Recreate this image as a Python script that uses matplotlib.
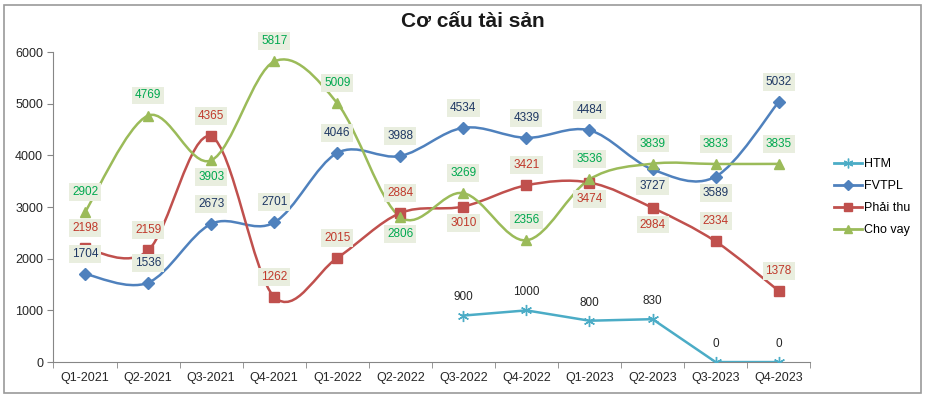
import matplotlib.pyplot as plt
from matplotlib.path import Path
from matplotlib.patches import PathPatch, Rectangle
import numpy as np

quarters = ["Q1-2021", "Q2-2021", "Q3-2021", "Q4-2021", "Q1-2022", "Q2-2022",
            "Q3-2022", "Q4-2022", "Q1-2023", "Q2-2023", "Q3-2023", "Q4-2023"]
fvtpl = [1704, 1536, 2673, 2701, 4046, 3988, 4534, 4339, 4484, 3727, 3589, 5032]
phai_thu = [2198, 2159, 4365, 1262, 2015, 2884, 3010, 3421, 3474, 2984, 2334, 1378]
cho_vay = [2902, 4769, 3903, 5817, 5009, 2806, 3269, 2356, 3536, 3839, 3833, 3835]
htm = [None, None, None, None, None, None, 900, 1000, 800, 830, 0, 0]

# label above (+1) or below (-1) each point
fvtpl_pos = [1, 1, 1, 1, 1, 1, 1, 1, 1, -1, -1, 1]
phai_thu_pos = [1, 1, 1, 1, 1, 1, -1, 1, -1, -1, 1, 1]
cho_vay_pos = [1, 1, -1, 1, 1, -1, 1, 1, 1, 1, 1, 1]

plt.rcParams['font.family'] = ['Liberation Sans', 'DejaVu Sans']

fig = plt.figure(figsize=(9.27, 3.97), dpi=100)
ax = fig.add_axes([0.0577, 0.088, 0.8163, 0.781])
fig.patches.append(Rectangle((0.004, 0.01), 0.989, 0.978, transform=fig.transFigure,
                             fill=False, edgecolor="#9a9a9a", lw=1.2))


def smooth_line(ax, xs, ys, color):
    # Excel-style smoothed line: cubic bezier through the points
    pts = np.column_stack([xs, ys]).astype(float)
    n = len(pts)
    verts = [pts[0]]
    codes = [Path.MOVETO]
    for i in range(n - 1):
        p0 = pts[max(i - 1, 0)]
        p1 = pts[i]
        p2 = pts[i + 1]
        p3 = pts[min(i + 2, n - 1)]
        verts += [p1 + (p2 - p0) / 6, p2 - (p3 - p1) / 6, p2]
        codes += [Path.CURVE4] * 3
    ax.add_patch(PathPatch(Path(verts, codes), fill=False, edgecolor=color, lw=1.8, zorder=2))


x = np.arange(len(quarters))
box = dict(boxstyle="square,pad=0.25", facecolor="#e9eedf", edgecolor="none")

series = [
    ("FVTPL", fvtpl, fvtpl_pos, "#4f81bd", "D", 6, "#1f3864"),
    ("Phải thu", phai_thu, phai_thu_pos, "#c0504d", "s", 6.5, "#c0392b"),
    ("Cho vay", cho_vay, cho_vay_pos, "#9bbb59", "^", 7, "#00a84f"),
]
handles = {}
for name, vals, pos, col, mk, ms, tcol in series:
    smooth_line(ax, x, vals, col)
    ax.plot(x, vals, linestyle="none", marker=mk, color=col, markersize=ms, zorder=3)
    handles[name] = ax.plot([], [], color=col, lw=2, marker=mk, markersize=ms - 1)[0]
    for xi, v, p in zip(x, vals, pos):
        ax.annotate(str(v), (xi, v), xytext=(0, 14.5 if p > 0 else -12), textcoords="offset points",
                    ha="center", va="center", fontsize=8.5, color=tcol, bbox=box, zorder=5,
                    annotation_clip=False)

hx = [xi for xi, v in zip(x, htm) if v is not None]
hv = [v for v in htm if v is not None]
ax.plot(hx, hv, color="#4bacc6", lw=1.8, marker=(6, 2, 0), markersize=8, zorder=3)
handles["HTM"] = ax.plot([], [], color="#4bacc6", lw=2, marker=(6, 2, 0), markersize=7)[0]
for xi, v in zip(hx, hv):
    ax.annotate(str(v), (xi, v), xytext=(0, 13), textcoords="offset points",
                ha="center", va="center", fontsize=8.5, color="#262626", zorder=5,
                annotation_clip=False)

ax.set_xlim(-0.5, len(quarters) - 0.5)
ax.set_ylim(0, 6000)
ax.set_yticks(range(0, 6001, 1000))
ax.set_xticks(x)
ax.set_xticklabels(quarters)
ax.set_xticks(np.arange(-0.5, len(quarters), 1), minor=True)
ax.tick_params(axis="x", which="major", length=0, labelsize=9, pad=7, colors="#262626")
ax.tick_params(axis="x", which="minor", length=4, color="#868686")
ax.tick_params(axis="y", length=4, color="#868686", labelsize=9, labelcolor="#262626")
for s in ["top", "right"]:
    ax.spines[s].set_visible(False)
for s in ["left", "bottom"]:
    ax.spines[s].set_color("#868686")

fig.text(0.51, 0.945, "Cơ cấu tài sản", ha="center", va="center", fontsize=15, fontweight="bold",
         color="#1a1a1a")

order = ["HTM", "FVTPL", "Phải thu", "Cho vay"]
fig.legend([handles[k] for k in order], order, loc="upper left", bbox_to_anchor=(0.888, 0.63),
           frameon=False, fontsize=9, handlelength=2.2, handletextpad=0.2, labelspacing=0.8)

fig.savefig("out.png", dpi=100)
